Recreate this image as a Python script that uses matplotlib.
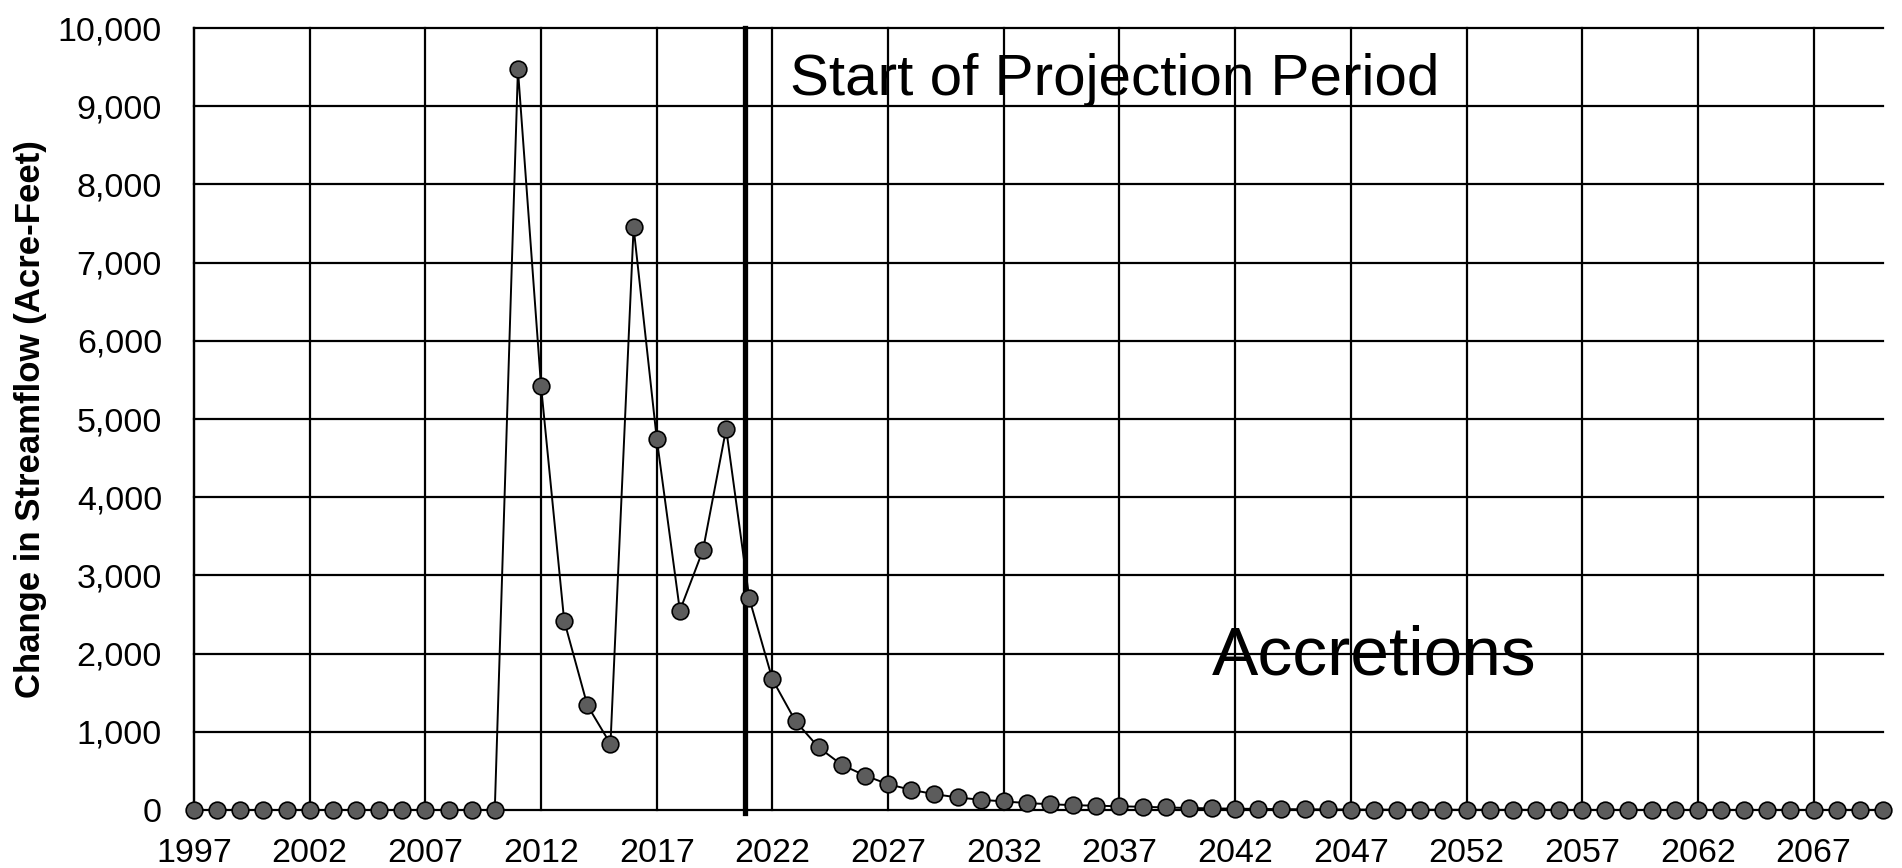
import matplotlib
matplotlib.use('Agg')
import matplotlib.pyplot as plt
import matplotlib.ticker as mticker

# annual change in streamflow (acre-feet), 1997-2070
years = list(range(1997, 2071))
streamflow = [0] * 14 + [
    9470, 5420, 2420, 1340, 845, 7450, 4750, 2550, 3325, 4875,   # 2011-2020
    2705, 1670, 1135, 800, 578, 441, 330, 258, 203, 161,         # 2021-2030
    131, 110, 89, 74, 62, 55, 48, 41, 33, 26,                    # 2031-2040
    21, 17, 14, 11, 9, 8, 6, 5, 4, 4,                            # 2041-2050
    3, 3, 2, 2, 2,                                               # 2051-2055
] + [1] * 15

projection_start = 2020.8
xticks = list(range(1997, 2071, 5))
yticks = list(range(0, 10001, 1000))

plt.rcParams['font.family'] = ['Liberation Sans', 'DejaVu Sans']

fig = plt.figure(figsize=(19.02, 8.68), dpi=100)
ax = fig.add_axes([0.102, 0.0668, 0.888, 0.9009])

# grid drawn by hand so it sits under the data
for x in xticks:
    ax.axvline(x, color='black', lw=1.6, zorder=1, clip_on=False)
for y in yticks:
    ax.axhline(y, color='black', lw=1.6, zorder=1, clip_on=False)

ax.plot(years, streamflow, color='black', lw=1.4, marker='o', markersize=12,
        markerfacecolor='#5c5c5c', markeredgecolor='black', markeredgewidth=1.2,
        zorder=3, clip_on=False)

ax.plot([projection_start, projection_start], [-40, 10000], color='black', lw=3.8,
        zorder=2, clip_on=False)

ax.text(2022.77, 9143, 'Start of Projection Period', fontsize=42, va='baseline', ha='left')
ax.text(2041.0, 1739, 'Accretions', fontsize=50, va='baseline', ha='left')

ax.set_xlim(1997, 2070)
ax.set_ylim(0, 10000)
ax.set_xticks(xticks)
ax.set_yticks(yticks)
ax.yaxis.set_major_formatter(mticker.StrMethodFormatter('{x:,.0f}'))
ax.tick_params(axis='both', length=0, labelsize=24.5)
ax.tick_params(axis='y', pad=23)
ax.tick_params(axis='x', pad=20)

for side in ['top', 'right', 'bottom']:
    ax.spines[side].set_visible(False)
ax.spines['left'].set_linewidth(1.6)

ax.set_ylabel('Change in Streamflow (Acre-Feet)', fontsize=25, fontweight='bold', labelpad=8)

fig.savefig('out.png', dpi=100)
